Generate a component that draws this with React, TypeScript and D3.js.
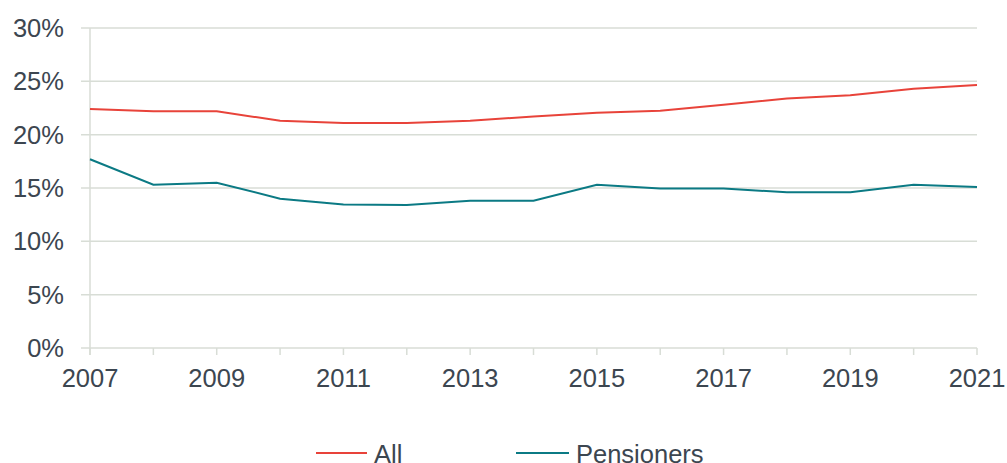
import React from "react";
import * as d3 from "d3";

const years = [2007, 2008, 2009, 2010, 2011, 2012, 2013, 2014, 2015, 2016, 2017, 2018, 2019, 2020, 2021];
const allValues = [22.4, 22.2, 22.2, 21.3, 21.1, 21.1, 21.3, 21.7, 22.05, 22.25, 22.8, 23.4, 23.7, 24.3, 24.65];
const pensionerValues = [17.7, 15.3, 15.5, 14.0, 13.45, 13.4, 13.8, 13.8, 15.3, 14.95, 14.95, 14.6, 14.6, 15.3, 15.1];
const yTicks = [0, 5, 10, 15, 20, 25, 30];
const xLabelYears = [2007, 2009, 2011, 2013, 2015, 2017, 2019, 2021];
const seriesNames = ["All", "Pensioners"];

const W = 1007;
const H = 463;
const left = 90;
const right = 977;
const top = 28;
const bottom = 348;
const gridColor = "#d8ddd6";
const textColor = "#3c4650";
const colors = ["#e8433a", "#0b7a84"];
const font = "'Liberation Sans', Arial, sans-serif";
const fs = 25.5;

export default function App() {
  const x = d3.scaleLinear().domain([2007, 2021]).range([left, right]);
  const y = d3.scaleLinear().domain([0, 30]).range([bottom, top]);
  const line = d3
    .line<number>()
    .x((_, i) => x(years[i]))
    .y((d) => y(d));
  const series = [allValues, pensionerValues];
  const legend = [
    { x1: 316, x2: 367, tx: 374 },
    { x1: 516, x2: 569, tx: 576 },
  ];
  return (
    <svg width={W} height={H} style={{ position: "absolute", left: 0, top: 0 }} fontFamily={font}>
      {yTicks.map((t) => (
        <line key={t} x1={81} x2={right} y1={y(t)} y2={y(t)} stroke={gridColor} strokeWidth={1.5} />
      ))}
      <line x1={left} x2={left} y1={top} y2={bottom + 7} stroke={gridColor} strokeWidth={1.5} />
      {years.map((yr) => (
        <line key={yr} x1={x(yr)} x2={x(yr)} y1={bottom} y2={bottom + 7} stroke={gridColor} strokeWidth={1.5} />
      ))}
      {yTicks.map((t) => (
        <text key={t} x={64} y={y(t) + 9} textAnchor="end" fontSize={fs} fill={textColor}>
          {t}%
        </text>
      ))}
      {xLabelYears.map((yr) => (
        <text key={yr} x={x(yr)} y={387} textAnchor="middle" fontSize={fs} fill={textColor}>
          {yr}
        </text>
      ))}
      {series.map((s, i) => (
        <path key={i} d={line(s) || ""} fill="none" stroke={colors[i]} strokeWidth={2} />
      ))}
      {seriesNames.map((n, i) => (
        <g key={n}>
          <line x1={legend[i].x1} x2={legend[i].x2} y1={453} y2={453} stroke={colors[i]} strokeWidth={2} />
          <text x={legend[i].tx} y={463} fontSize={fs} fill={textColor}>
            {n}
          </text>
        </g>
      ))}
    </svg>
  );
}
